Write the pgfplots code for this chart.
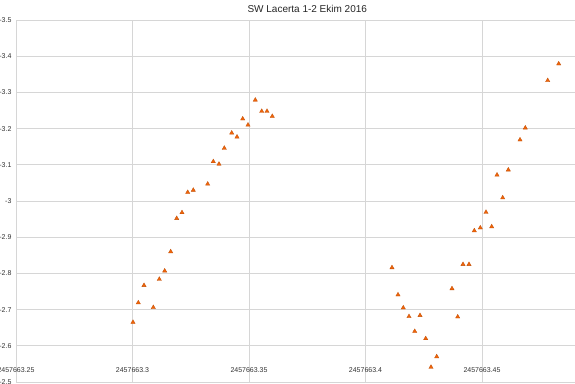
\documentclass[border=0pt]{standalone}
\usepackage{pgfplots}
\pgfplotsset{compat=1.18}
\usepackage{fontspec}
\setmainfont{Liberation Sans}
\definecolor{mk}{RGB}{240,100,10}
\definecolor{gridc}{RGB}{214,214,214}
\begin{document}
\begin{tikzpicture}[x=1pt,y=1pt]
\path[use as bounding box, clip] (0,0) rectangle (575,383);
\begin{axis}[
  at={(16pt,1pt)}, anchor=south west,
  scale only axis, width=582.5pt, height=362pt,
  xmin=0.25, xmax=0.5, ymin=-3.5, ymax=-2.5,
  y dir=reverse,
  axis line style={draw=none},
  xtick={0.25,0.3,0.35,0.4,0.45},
  xticklabels={2457663.25,2457663.3,2457663.35,2457663.4,2457663.45},
  ytick={-3.5,-3.4,-3.3,-3.2,-3.1,-3,-2.9,-2.8,-2.7,-2.6,-2.5},
  yticklabels={-3.5,-3.4,-3.3,-3.2,-3.1,-3,-2.9,-2.8,-2.7,-2.6,-2.5},
  major tick length=0pt,
  grid=major,
  major grid style={gridc, line width=0.9pt},
  tick label style={font=\fontsize{7}{8}\selectfont, text=black!80},
  xticklabel style={anchor=center, yshift=12pt},
  yticklabel style={anchor=east, xshift=-1pt},
  title={SW Lacerta 1-2 Ekim 2016},
  title style={font=\fontsize{10}{12}\selectfont, text=black!85, yshift=-2pt},
  clip=false,
]
\addplot[only marks, mark=triangle*, mark size=2.5pt, mark options={fill=mk, draw=mk!80!black, line width=0.3pt}] coordinates {
(0.30021,-2.665)
(0.30249,-2.719)
(0.30494,-2.767)
(0.30893,-2.706)
(0.31150,-2.784)
(0.31382,-2.807)
(0.31639,-2.860)
(0.31897,-2.952)
(0.32124,-2.968)
(0.32369,-3.024)
(0.32609,-3.030)
(0.33227,-3.047)
(0.33468,-3.109)
(0.33712,-3.102)
(0.33940,-3.146)
(0.34258,-3.188)
(0.34485,-3.177)
(0.34730,-3.227)
(0.34957,-3.210)
(0.35270,-3.279)
(0.35545,-3.248)
(0.35773,-3.248)
(0.36000,-3.234)
(0.41137,-2.816)
(0.41395,-2.741)
(0.41622,-2.705)
(0.41867,-2.681)
(0.42112,-2.640)
(0.42339,-2.684)
(0.42584,-2.620)
(0.42811,-2.541)
(0.43056,-2.570)
(0.43712,-2.758)
(0.43957,-2.680)
(0.44185,-2.825)
(0.44442,-2.825)
(0.44670,-2.918)
(0.44927,-2.926)
(0.45172,-2.969)
(0.45416,-2.929)
(0.45644,-3.072)
(0.45888,-3.009)
(0.46129,-3.086)
(0.46631,-3.169)
(0.46858,-3.202)
(0.47820,-3.333)
(0.48292,-3.379)
};
\end{axis}
\end{tikzpicture}
\end{document}
